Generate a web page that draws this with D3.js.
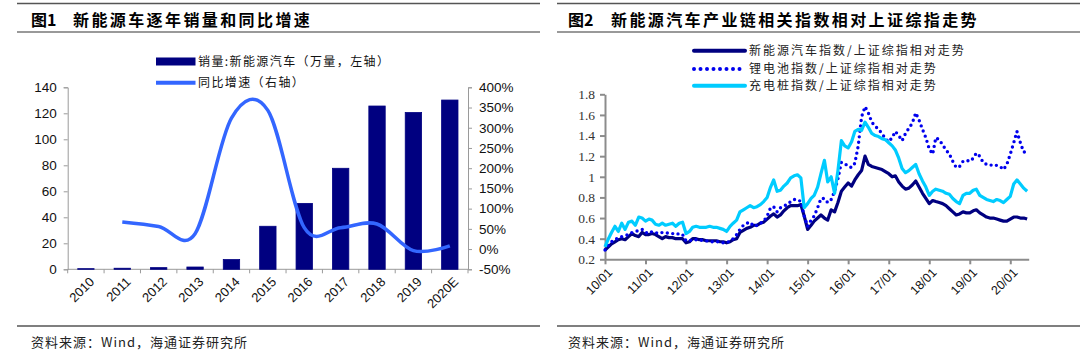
<!DOCTYPE html>
<html><head><meta charset="utf-8">
<script src="https://cdn.jsdelivr.net/npm/d3@7"></script>
<style>
body{margin:0;background:#fff;}
svg{display:block;}
.cjk{font-family:"Noto Sans CJK SC","Noto Sans",sans-serif;}
.lat{font-family:"Liberation Sans",Arial,sans-serif;}
.ser{font-family:"Liberation Serif","Times New Roman",serif;}
</style></head>
<body><svg id="c" width="1080" height="364"></svg>
<script>
// ---------- Figure 1 data ----------
const years = ['2010','2011','2012','2013','2014','2015','2016','2017','2018','2019','2020E'];
const sales = [0.49,0.82,1.28,1.76,7.48,33.1,50.7,77.7,125.6,120.6,130.2];
const growth = [null,67,56,38,324,343,53,53,62,-4,8];
const leftTicks = [0,20,40,60,80,100,120,140];
const rightTicks = [-50,0,50,100,150,200,250,300,350,400];

// ---------- Figure 2 data (monthly, 2010/01 - 2020/06) ----------
const months = d3.range(126).map(i => new Date(2010, i, 1));
const nevIdx = [0.29,0.32,0.35,0.37,0.39,0.40,0.39,0.42,0.45,0.43,0.42,0.46,
0.44,0.44,0.45,0.44,0.42,0.40,0.42,0.41,0.41,0.40,0.40,0.40,
0.36,0.37,0.40,0.40,0.39,0.39,0.38,0.38,0.38,0.38,0.37,0.37,
0.36,0.37,0.39,0.40,0.46,0.48,0.50,0.51,0.53,0.53,0.55,0.56,
0.59,0.62,0.64,0.61,0.63,0.67,0.70,0.72,0.72,0.72,0.73,0.62,
0.49,0.53,0.57,0.60,0.63,0.60,0.58,0.68,0.66,0.75,0.86,0.90,
0.94,0.91,0.97,1.02,1.06,1.20,1.12,1.10,1.09,1.08,1.07,1.05,
1.03,1.00,1.01,0.95,0.91,0.88,0.89,0.92,0.96,0.90,0.84,0.79,
0.74,0.77,0.76,0.75,0.74,0.72,0.69,0.66,0.63,0.64,0.66,0.65,
0.65,0.67,0.68,0.65,0.63,0.61,0.60,0.60,0.59,0.58,0.57,0.57,
0.59,0.61,0.61,0.60,0.60,0.59];
const batteryIdx = [0.29,0.34,0.37,0.39,0.41,0.42,0.43,0.44,0.46,0.47,0.48,0.49,
0.46,0.45,0.47,0.46,0.45,0.46,0.46,0.45,0.45,0.44,0.45,0.44,
0.38,0.38,0.39,0.39,0.39,0.38,0.38,0.37,0.37,0.37,0.37,0.36,
0.36,0.38,0.40,0.44,0.49,0.53,0.55,0.56,0.52,0.53,0.55,0.57,
0.62,0.70,0.71,0.66,0.70,0.72,0.73,0.76,0.78,0.78,0.76,0.62,
0.52,0.58,0.62,0.70,0.79,0.79,0.75,0.78,0.86,0.98,1.14,1.13,
1.10,1.09,1.13,1.30,1.58,1.68,1.62,1.53,1.49,1.46,1.42,1.37,
1.34,1.38,1.44,1.40,1.35,1.42,1.47,1.52,1.62,1.55,1.46,1.38,
1.27,1.22,1.38,1.36,1.31,1.26,1.22,1.15,1.09,1.10,1.15,1.16,
1.15,1.18,1.23,1.20,1.14,1.12,1.11,1.12,1.11,1.10,1.07,1.12,
1.22,1.33,1.44,1.33,1.24,1.24];
const chargerIdx = [0.32,0.40,0.46,0.52,0.47,0.55,0.49,0.56,0.57,0.53,0.61,0.60,
0.57,0.59,0.58,0.54,0.53,0.55,0.53,0.54,0.55,0.52,0.55,0.56,
0.45,0.47,0.51,0.52,0.51,0.51,0.51,0.52,0.51,0.51,0.50,0.49,
0.47,0.52,0.55,0.58,0.66,0.68,0.70,0.72,0.70,0.71,0.73,0.76,
0.80,0.90,0.97,0.86,0.87,0.91,0.94,0.99,1.01,1.02,0.99,0.70,
0.74,0.79,0.82,0.90,1.03,1.16,0.95,1.00,0.84,1.06,1.35,1.30,
1.28,1.34,1.44,1.46,1.45,1.53,1.48,1.42,1.40,1.39,1.37,1.36,
1.33,1.30,1.26,1.18,1.08,1.04,1.06,1.09,1.12,1.03,0.96,0.90,
0.82,0.86,0.88,0.87,0.86,0.84,0.83,0.79,0.76,0.74,0.82,0.84,
0.84,0.87,0.88,0.82,0.80,0.78,0.77,0.76,0.78,0.77,0.75,0.78,
0.81,0.93,0.97,0.93,0.89,0.86];
const idxTicks = [0.2,0.4,0.6,0.8,1.0,1.2,1.4,1.6,1.8];

const svg = d3.select('#c');

// ---------- frame lines / titles / footers ----------
function frame(x0, x1, titleNo, titleX, titleRestX, titleText) {
  svg.append('line').attr('x1',x0).attr('x2',x1).attr('y1',3.5).attr('y2',3.5).attr('stroke','#555').attr('stroke-width',1.5);
  svg.append('line').attr('x1',x0).attr('x2',x1).attr('y1',32).attr('y2',32).attr('stroke','#999').attr('stroke-width',2);
  svg.append('line').attr('x1',x0).attr('x2',x1).attr('y1',326).attr('y2',326).attr('stroke','#555').attr('stroke-width',1.5);
  svg.append('text').attr('class','cjk').attr('x',titleX).attr('y',26).attr('font-size',16).attr('font-weight','bold').text('图' + titleNo);
  svg.append('text').attr('class','cjk').attr('x',titleRestX).attr('y',26).attr('font-size',16).attr('font-weight','bold')
     .attr('letter-spacing',2.4).text(titleText);
  svg.append('text').attr('class','cjk').attr('x',titleX).attr('y',347).attr('font-size',13).attr('letter-spacing',1)
     .attr('fill','#222').text('资料来源：Wind，海通证券研究所');
}
frame(17, 540, '1', 31, 73, '新能源车逐年销量和同比增速');
frame(557, 1080, '2', 568, 611, '新能源汽车产业链相关指数相对上证综指走势');

// ---------- Figure 1 ----------
const L = {x0:67.7, x1:468, y0:269.3, y1:87.3};
const xb = d3.scaleBand().domain(years).range([L.x0, L.x1]).paddingInner(0.55).paddingOuter(0.275);
const yl = d3.scaleLinear().domain([0,140]).range([L.y0, L.y1]);
const yr = d3.scaleLinear().domain([-50,400]).range([L.y0, L.y1]);
const g1 = svg.append('g');

const axL = g1.append('g').attr('transform',`translate(${L.x0},0)`)
  .call(d3.axisLeft(yl).tickValues(leftTicks).tickSize(4).tickPadding(7));
const axR = g1.append('g').attr('transform',`translate(${L.x1},0)`)
  .call(d3.axisRight(yr).tickValues(rightTicks).tickSize(4).tickPadding(7).tickFormat(d => d + '%'));
[axL, axR].forEach(a => {
  a.selectAll('path,line').attr('stroke','#9a9a9a');
  a.selectAll('text').attr('class','lat').attr('font-size',13.5).attr('fill','#111');
});
// x axis with ticks at band boundaries
const axX = g1.append('g');
axX.append('line').attr('x1',L.x0).attr('x2',L.x1).attr('y1',L.y0).attr('y2',L.y0).attr('stroke','#9a9a9a');
years.forEach((c,i) => {
  const bx = L.x0 + i * xb.step();
  axX.append('line').attr('x1',bx).attr('x2',bx).attr('y1',L.y0).attr('y2',L.y0+4).attr('stroke','#9a9a9a');
});
axX.append('line').attr('x1',L.x1).attr('x2',L.x1).attr('y1',L.y0).attr('y2',L.y0+4).attr('stroke','#9a9a9a');

g1.selectAll('rect.bar').data(years).enter().append('rect').attr('class','bar')
  .attr('x', d => xb(d)).attr('width', xb.bandwidth())
  .attr('y', (d,i) => yl(sales[i])).attr('height', (d,i) => yl(0) - yl(sales[i]))
  .attr('fill','#000080').attr('stroke','#000080').attr('stroke-width',0.8);

const lineG = d3.line().defined(d => d[1] != null)
  .x(d => xb(d[0]) + xb.bandwidth()/2).y(d => yr(d[1])).curve(d3.curveCardinal.tension(0));
g1.append('path').datum(years.map((c,i) => [c, growth[i]]).filter(d => d[1] != null))
  .attr('d', lineG).attr('fill','none').attr('stroke','#3366ff').attr('stroke-width',3.5);

g1.selectAll('text.xl').data(years).enter().append('text').attr('class','lat')
  .attr('transform', d => `translate(${xb(d) + xb.bandwidth()/2 + 6},${L.y0 + 10}) rotate(-45)`)
  .attr('text-anchor','end').attr('dy','0.35em').attr('font-size',13).attr('fill','#111').text(d => d);

// legend 1
g1.append('rect').attr('x',156).attr('y',57.5).attr('width',39.5).attr('height',8).attr('fill','#000080');
g1.append('text').attr('class','cjk').attr('x',198).attr('y',61.5).attr('dy','0.35em').attr('font-size',12)
  .attr('letter-spacing',1.4).attr('fill','#111').text('销量:新能源汽车（万量，左轴）');
g1.append('line').attr('x1',156).attr('x2',195.5).attr('y1',82.7).attr('y2',82.7).attr('stroke','#3366ff').attr('stroke-width',4);
g1.append('text').attr('class','cjk').attr('x',198).attr('y',82.7).attr('dy','0.35em').attr('font-size',12)
  .attr('letter-spacing',1.4).attr('fill','#111').text('同比增速（右轴）');

// ---------- Figure 2 ----------
const R = {x0:605, x1:1028.7, y0:259.3, y1:94.3};
const xt = d3.scaleTime().domain([new Date(2010,0,1), new Date(2020,5,15)]).range([R.x0, R.x1]);
const yi = d3.scaleLinear().domain([0.2,1.8]).range([R.y0, R.y1]);
const g2 = svg.append('g');

const ay = g2.append('g').attr('transform',`translate(${R.x0},0)`)
  .call(d3.axisLeft(yi).tickValues(idxTicks).tickSize(5).tickPadding(5).tickSizeOuter(0).tickFormat(d => String(+d.toFixed(1))));
ay.selectAll('path,line').attr('stroke','#8c8c8c').attr('stroke-width',2);
ay.selectAll('text').attr('class','ser').attr('font-size',13.5).attr('fill','#333');
const yearTicks = d3.range(2010,2021).map(y => new Date(y,0,1));
const ax = g2.append('g').attr('transform',`translate(0,${R.y0})`)
  .call(d3.axisBottom(xt).tickValues(yearTicks).tickSize(5).tickSizeOuter(0).tickFormat(() => ''));
ax.selectAll('path,line').attr('stroke','#8c8c8c').attr('stroke-width',2);
g2.selectAll('text.xl').data(yearTicks).enter().append('text').attr('class','lat')
  .attr('transform', d => `translate(${xt(d) + 5},${R.y0 + 11}) rotate(-45)`)
  .attr('text-anchor','end').attr('dy','0.35em').attr('font-size',12.5).attr('fill','#111').text(d => d3.timeFormat('%y/%m')(d));

const mk = arr => d3.line().x((d,i) => xt(months[i])).y(d => yi(d))(arr);
g2.append('path').attr('d', mk(nevIdx)).attr('fill','none').attr('stroke','#000080').attr('stroke-width',3.2).attr('stroke-linejoin','round');
g2.append('path').attr('d', mk(batteryIdx)).attr('fill','none').attr('stroke','#0000ee').attr('stroke-width',3.4)
  .attr('stroke-dasharray','0 5.5').attr('stroke-linecap','round');
g2.append('path').attr('d', mk(chargerIdx)).attr('fill','none').attr('stroke','#00ccff').attr('stroke-width',3.2).attr('stroke-linejoin','round');

// legend 2
const lg = [
  {y:50.7, t:'新能源汽车指数/上证综指相对走势', c:'#000080', dash:null},
  {y:69, t:'锂电池指数/上证综指相对走势', c:'#0000ee', dash:'0 6.5'},
  {y:85.7, t:'充电桩指数/上证综指相对走势', c:'#00ccff', dash:null}
];
lg.forEach(o => {
  const l = g2.append('line').attr('x1',694).attr('x2',745).attr('y1',o.y).attr('y2',o.y).attr('stroke',o.c).attr('stroke-width',4);
  if (o.dash) l.attr('stroke-dasharray',o.dash).attr('stroke-linecap','round');
  else l.attr('stroke-linecap','round');
  g2.append('text').attr('class','cjk').attr('x',749).attr('y',o.y).attr('dy','0.35em').attr('font-size',12)
    .attr('letter-spacing',2).attr('fill','#222').text(o.t);
});
</script></body></html>
